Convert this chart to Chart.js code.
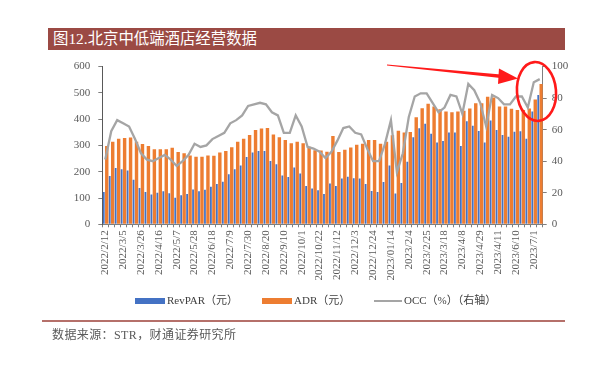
<!DOCTYPE html>
<html>
<head>
<meta charset="utf-8">
<script src="https://cdn.jsdelivr.net/npm/chart.js@4.4.1/dist/chart.umd.min.js"></script>
<style>
  html, body { margin: 0; padding: 0; background: #fff; }
  body { width: 610px; height: 369px; position: relative; overflow: hidden; font-family: "Liberation Serif", "Noto Sans CJK SC", serif; }
  #title { position: absolute; left: 48px; top: 28px; width: 517px; height: 22px; background: #9b4a44; color: #fff;
           font-size: 15.4px; line-height: 22px; padding-left: 5px; box-sizing: border-box; }
  #chartBox { position: absolute; left: 0; top: 0; width: 610px; height: 369px; }
  .sw { position: absolute; }
  .lg { position: absolute; top: 293px; font-size: 11px; line-height: 15px; color: #404040; white-space: nowrap; }
  #srcLine { position: absolute; left: 42px; top: 320px; width: 523px; height: 1.5px; background: #b5706a; }
  #source { position: absolute; left: 52px; top: 327px; font-size: 12px; line-height: 16px; color: #595959; letter-spacing: 0.4px; white-space: nowrap; }
</style>
</head>
<body>
<div id="title">图12.北京中低端酒店经营数据</div>
<div id="chartBox"><canvas id="chart" width="610" height="369"></canvas></div>

<div class="sw" style="left:135px; top:298px; width:30px; height:5.5px; background:#4472c4;"></div>
<div class="lg" style="left:167px;">RevPAR（元）</div>
<div class="sw" style="left:262px; top:298px; width:30px; height:5.5px; background:#ed7d31;"></div>
<div class="lg" style="left:294px;">ADR（元）</div>
<div class="sw" style="left:374px; top:300px; width:28px; height:1.6px; background:#a5a5a5;"></div>
<div class="lg" style="left:404px;">OCC（%）（右轴）</div>

<div id="srcLine"></div>
<div id="source">数据来源：STR，财通证券研究所</div>

<script>
// weekly dates (only every 3rd one is printed on the axis)
const labels = [
  '2022/2/12', '2022/2/19', '2022/2/26', '2022/3/5', '2022/3/12', '2022/3/19', '2022/3/26', '2022/4/2',
  '2022/4/9', '2022/4/16', '2022/4/23', '2022/4/30', '2022/5/7', '2022/5/14', '2022/5/21', '2022/5/28',
  '2022/6/4', '2022/6/11', '2022/6/18', '2022/6/25', '2022/7/2', '2022/7/9', '2022/7/16', '2022/7/23',
  '2022/7/30', '2022/8/6', '2022/8/13', '2022/8/20', '2022/8/27', '2022/9/3', '2022/9/10', '2022/9/17',
  '2022/9/24', '2022/10/1', '2022/10/8', '2022/10/15', '2022/10/22', '2022/10/29', '2022/11/5', '2022/11/12',
  '2022/11/19', '2022/11/26', '2022/12/3', '2022/12/10', '2022/12/17', '2022/12/24', '2022/12/31', '2023/1/7',
  '2023/01/14', '2023/1/21', '2023/1/28', '2023/2/4', '2023/2/11', '2023/2/18', '2023/2/25', '2023/3/4',
  '2023/3/11', '2023/3/18', '2023/3/25', '2023/4/1', '2023/4/8', '2023/4/15', '2023/4/22', '2023/4/29',
  '2023/5/6', '2023/5/13', '2023/4/11', '2023/5/27', '2023/6/3', '2023/6/10', '2023/6/17', '2023/6/24',
  '2023/7/1', '2023/7/8'
];

// RevPAR (元)
const revpar = [
  123, 184, 214, 209, 205, 169, 138, 123, 113, 120, 126, 118, 101, 110, 115, 132, 126, 131,
  143, 153, 162, 190, 209, 224, 256, 273, 279, 279, 241, 228, 186, 180, 216, 193, 146, 136, 129,
  115, 155, 146, 174, 181, 175, 174, 153, 127, 123, 161, 224, 117, 157, 238, 331, 365,
  382, 344, 311, 317, 349, 349, 298, 392, 375, 355, 311, 395, 359, 340, 333, 352, 354, 325, 429, 492
];

// ADR (元)
const adr = [
  298, 314, 325, 328, 330, 314, 305, 298, 285, 285, 285, 291, 275, 270, 262, 257, 257, 262,
  261, 273, 279, 293, 314, 325, 340, 359, 364, 366, 341, 331, 321, 308, 314, 308, 295, 282, 281,
  276, 336, 275, 283, 292, 302, 306, 321, 321, 306, 314, 339, 356, 349, 351, 407, 441,
  458, 448, 437, 429, 426, 429, 432, 440, 460, 460, 485, 482, 448, 448, 439, 435, 435, 440, 475, 533
];

// OCC (%), right axis
const occ = [
  41, 59, 66, 64, 62, 54, 45, 41, 40, 42, 44, 41, 37, 40, 44, 51, 49, 50,
  54, 56, 58, 64, 66, 69, 75, 76, 77, 76, 71, 69, 58, 58, 69, 62, 49, 48, 46,
  42, 46, 53, 61, 62, 58, 57, 48, 40, 40, 51, 66, 33, 45, 68, 81, 83,
  83, 77, 71, 74, 82, 81, 70, 89, 85, 77, 62, 82, 80, 76, 76, 81, 81, 74, 90, 92
];

const tickFont = { family: 'Liberation Serif', size: 11 };
const tickColor = '#595959';
const axisColor = '#7f7f7f';

// red arrow + circle drawn on top
const markPlugin = {
  id: 'marks',
  afterDatasetsDraw(chart) {
    const ctx = chart.ctx;
    ctx.save();
    ctx.fillStyle = '#ff1a1a';
    ctx.strokeStyle = '#ff1a1a';
    // tapered shaft
    ctx.beginPath();
    ctx.moveTo(387, 64.5);
    ctx.lineTo(501, 74.5);
    ctx.lineTo(500.5, 78);
    ctx.lineTo(387, 65.5);
    ctx.closePath();
    ctx.fill();
    // head
    ctx.beginPath();
    ctx.moveTo(518, 78.5);
    ctx.lineTo(499, 68.5);
    ctx.lineTo(498, 84);
    ctx.closePath();
    ctx.fill();
    // ellipse
    ctx.lineWidth = 2.6;
    ctx.beginPath();
    ctx.ellipse(536.5, 91.5, 19.5, 29.5, -0.08, 0, Math.PI * 2);
    ctx.stroke();
    ctx.restore();
  }
};

new Chart(document.getElementById('chart'), {
  data: {
    labels: labels,
    datasets: [
      {
        type: 'bar', label: 'RevPAR（元）', data: revpar, yAxisID: 'y',
        backgroundColor: '#4472c4', barPercentage: 0.6, categoryPercentage: 1.0
      },
      {
        type: 'bar', label: 'ADR（元）', data: adr, yAxisID: 'y',
        backgroundColor: '#ed7d31', barPercentage: 1.15, categoryPercentage: 1.0
      },
      {
        type: 'line', label: 'OCC（%）（右轴）', data: occ, yAxisID: 'y1', order: -1,
        borderColor: '#a5a5a5', borderWidth: 2.3, pointRadius: 0, tension: 0, fill: false
      }
    ]
  },
  options: {
    responsive: false,
    animation: false,
    layout: { padding: { top: 66.5, left: 0, right: 0, bottom: 0 } },
    plugins: { legend: { display: false }, tooltip: { enabled: false } },
    scales: {
      x: {
        offset: true,
        grid: { drawOnChartArea: false, drawTicks: true, tickLength: 3, color: axisColor, offset: true },
        border: { color: axisColor },
        ticks: {
          autoSkip: false, minRotation: 90, maxRotation: 90, padding: 3,
          color: tickColor, font: tickFont,
          callback: (v, i) => (i % 3 === 0 ? labels[i] : '')
        },
        afterFit: s => { s.height = 369 - 224.3; }
      },
      y: {
        position: 'left', min: 0, max: 600,
        grid: { drawOnChartArea: false, tickLength: 4, color: axisColor },
        border: { color: '#595959' },
        ticks: { stepSize: 100, padding: 8, color: tickColor, font: tickFont },
        afterFit: s => { s.width = 102.3; }
      },
      y1: {
        position: 'right', min: 0, max: 100,
        grid: { drawOnChartArea: false, tickLength: 4, color: axisColor },
        border: { color: axisColor },
        ticks: { stepSize: 10, padding: 5, color: tickColor, font: tickFont },
        afterFit: s => { s.width = 610 - 542.7; }
      }
    }
  },
  plugins: [markPlugin]
});
</script>
</body>
</html>
